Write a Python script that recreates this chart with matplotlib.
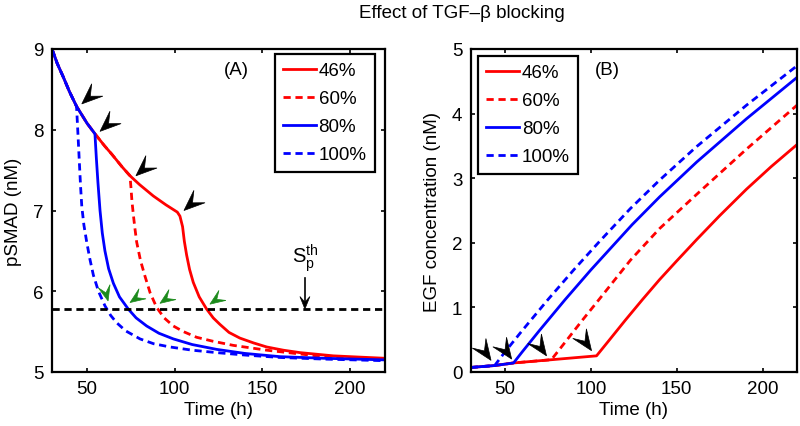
import numpy as np
import matplotlib
matplotlib.use("Agg")
import matplotlib.pyplot as plt
import matplotlib.transforms as mtransforms
from matplotlib.patches import Polygon

plt.rcParams['font.family'] = ['Liberation Sans', 'DejaVu Sans']
plt.rcParams['mathtext.fontset'] = 'custom'
plt.rcParams['mathtext.rm'] = 'Liberation Sans'
plt.rcParams['mathtext.it'] = 'Liberation Sans'

# ---------------------------------------------------------------
# Data
# ---------------------------------------------------------------
labels = ["46%", "60%", "80%", "100%"]
colors = ["#ff0000", "#ff0000", "#0000ff", "#0000ff"]
styles = ["solid", "dashed", "solid", "dashed"]

# (A) pSMAD, common trajectory before blocking
smad_pre_t = [30, 33, 36.5, 40, 44, 50, 54.5, 60, 64, 70, 74.5, 80, 87.8, 95, 101.5]
smad_pre_v = [9.0, 8.82, 8.65, 8.47, 8.29, 8.08, 7.95, 7.80, 7.70, 7.54, 7.43, 7.32, 7.18, 7.07, 6.98]
block_time = [101.5, 74.5, 54.5, 44]

# (A) pSMAD after blocking
smad_46_t = [103, 104.5, 105.5, 106.8, 108.5, 110.6, 114, 118.2, 122, 125.8, 131,
             137.2, 145, 152.5, 162, 171.5, 190.5, 205, 220]
smad_46_v = [6.93, 6.80, 6.62, 6.45, 6.27, 6.11, 5.93, 5.78, 5.67, 5.59, 5.49,
             5.42, 5.36, 5.31, 5.27, 5.24, 5.20, 5.185, 5.17]
smad_60_t = [75.0, 75.6, 76.4, 77.3, 78.3, 80.5, 83, 86, 89.7, 94, 99.2, 105,
             112.5, 122, 133.4, 152.5, 181, 220]
smad_60_v = [7.30, 7.12, 6.95, 6.78, 6.61, 6.38, 6.19, 5.98, 5.80, 5.67, 5.57, 5.50,
             5.43, 5.38, 5.33, 5.27, 5.20, 5.15]
smad_80_t = [55.3, 56.2, 57.4, 58.7, 60.2, 62.3, 65, 68.5, 73.5, 78, 84, 91, 99.2,
             110, 124, 140, 160, 185, 220]
smad_80_v = [7.65, 7.35, 7.00, 6.72, 6.50, 6.28, 6.10, 5.93, 5.78, 5.67, 5.57, 5.48,
             5.41, 5.34, 5.28, 5.23, 5.19, 5.17, 5.15]
smad_100_t = [44.8, 45.6, 46.3, 47.0, 48.2, 49.8, 51.6, 53.6, 56.5, 60.2, 63.5, 66.9,
              72, 80.2, 88, 97.3, 110, 124, 140, 160, 185, 220]
smad_100_v = [7.95, 7.60, 7.30, 7.05, 6.82, 6.61, 6.40, 6.20, 6.00, 5.82, 5.70, 5.61,
              5.51, 5.41, 5.35, 5.31, 5.27, 5.24, 5.21, 5.18, 5.16, 5.14]
smad_threshold = 5.78

# (B) EGF, common baseline before blocking
egf_pre_t = [30, 44, 55, 77, 103.3]
egf_pre_v = [0.07, 0.10, 0.14, 0.19, 0.25]
egf_block = [103.3, 77, 55, 44]

# (B) EGF after blocking
egf_46_t = [110, 120, 130, 140, 150, 161.6, 175, 190.6, 205, 220]
egf_46_v = [0.47, 0.80, 1.12, 1.43, 1.72, 2.05, 2.42, 2.83, 3.18, 3.52]
egf_60_t = [85, 95, 105, 114, 123, 140, 161.6, 190.6, 220]
egf_60_v = [0.46, 0.80, 1.13, 1.43, 1.73, 2.22, 2.75, 3.45, 4.13]
egf_80_t = [60, 70, 85, 100, 112, 124, 140, 161.6, 190.6, 220]
egf_80_v = [0.31, 0.64, 1.12, 1.58, 1.93, 2.28, 2.71, 3.25, 3.92, 4.56]
egf_100_t = [50, 60, 75, 90, 105, 123, 140, 161.6, 190.6, 220]
egf_100_v = [0.31, 0.64, 1.12, 1.58, 2.02, 2.53, 2.97, 3.49, 4.13, 4.74]

# arrowhead markers: (t, value, direction in degrees)
arrows_a_black = [(47, 8.32, 222), (57.4, 7.98, 222), (77.9, 7.43, 222), (105.3, 7.0, 222)]
arrows_a_green = [(62, 5.88, -75), (74.5, 5.86, 215), (91.6, 5.85, 215), (120.1, 5.84, 215)]
arrows_b_black = [(41.9, 0.18, -55), (53.9, 0.20, -55), (74.2, 0.25, -55), (100.4, 0.33, -55)]

smad_after = [(smad_46_t, smad_46_v), (smad_60_t, smad_60_v),
              (smad_80_t, smad_80_v), (smad_100_t, smad_100_v)]
egf_after = [(egf_46_t, egf_46_v), (egf_60_t, egf_60_v),
             (egf_80_t, egf_80_v), (egf_100_t, egf_100_v)]

LW = 2.0
DASH = (0, (2.6, 1.7))
FS = 13.5


def line_style(s):
    return "-" if s == "solid" else DASH


def chevron(ax, x, y, angle, size, color):
    # notched arrowhead, tip at (x, y), size in points
    L = size
    W = 0.8 * size
    verts = np.array([[0, 0], [-L, W / 2], [-0.55 * L, 0], [-L, -W / 2]])
    tr = (mtransforms.Affine2D().rotate_deg(angle).scale(ax.figure.dpi / 72.0)
          + mtransforms.ScaledTranslation(x, y, ax.transData))
    ax.add_patch(Polygon(verts, closed=True, transform=tr, facecolor=color,
                         edgecolor=color, lw=0.5, clip_on=False, zorder=5))


def style_axes(ax):
    for sp in ax.spines.values():
        sp.set_linewidth(1.6)
    ax.tick_params(direction="in", length=3, width=1.2, top=True, right=True,
                   labelsize=FS, pad=6)


def make_legend(ax, loc, anchor):
    leg = ax.legend(loc=loc, bbox_to_anchor=anchor, borderaxespad=0,
                    fontsize=FS, handlelength=1.75, handletextpad=0.15,
                    labelspacing=0.58, borderpad=0.45, fancybox=False,
                    framealpha=1)
    leg.get_frame().set_edgecolor("black")
    leg.get_frame().set_linewidth(1.6)
    return leg


fig = plt.figure(figsize=(8, 4.27), dpi=100)
axA = fig.add_axes([52 / 800, 1 - 373 / 427, 333 / 800, 323 / 427])
axB = fig.add_axes([470.6 / 800, 1 - 373 / 427, 326.4 / 800, 323 / 427])

# ---------------- panel A ----------------
pre_t = np.array(smad_pre_t)
pre_v = np.array(smad_pre_v)
for i in range(4):
    keep = pre_t <= block_time[i]
    t = np.concatenate([pre_t[keep], smad_after[i][0]])
    v = np.concatenate([pre_v[keep], smad_after[i][1]])
    axA.plot(t, v, color=colors[i], linestyle=line_style(styles[i]), lw=LW,
             label=labels[i])

axA.axhline(smad_threshold, color="black", linestyle=DASH, lw=LW)
axA.set_xlim(30, 220)
axA.set_ylim(5, 9)
axA.set_xticks([50, 100, 150, 200])
axA.set_yticks([5, 6, 7, 8, 9])
axA.set_xlabel("Time (h)", fontsize=FS, labelpad=3)
axA.set_ylabel("pSMAD (nM)", fontsize=FS, labelpad=8)
style_axes(axA)

for x, y, a in arrows_a_black:
    chevron(axA, x, y, a, 15, "black")
for x, y, a in arrows_a_green:
    chevron(axA, x, y, a, 11, "#1b8a1b")

axA.text(174.3, 6.42, r"$\mathrm{S}_\mathrm{p}^\mathrm{th}$", fontsize=FS + 1,
         ha="center", va="center")
axA.plot([174.3, 174.3], [6.17, 5.85], color="black", lw=1.2)
chevron(axA, 174.3, smad_threshold, -90, 9, "black")

axA.text(0.553, 0.935, "(A)", transform=axA.transAxes, fontsize=FS,
         ha="center", va="center")
make_legend(axA, "upper right", (0.97, 0.985))

# ---------------- panel B ----------------
bt = np.array(egf_pre_t)
bv = np.array(egf_pre_v)
for i in range(4):
    keep = bt <= egf_block[i]
    t = np.concatenate([bt[keep], egf_after[i][0]])
    v = np.concatenate([bv[keep], egf_after[i][1]])
    axB.plot(t, v, color=colors[i], linestyle=line_style(styles[i]), lw=LW,
             label=labels[i])

axB.set_xlim(30, 220)
axB.set_ylim(0, 5)
axB.set_xticks([50, 100, 150, 200])
axB.set_yticks([0, 1, 2, 3, 4, 5])
axB.set_xlabel("Time (h)", fontsize=FS, labelpad=3)
axB.set_ylabel("EGF concentration (nM)", fontsize=FS, labelpad=8)
style_axes(axB)

for x, y, a in arrows_b_black:
    chevron(axB, x, y, a, 15, "black")

axB.text(0.42, 0.935, "(B)", transform=axB.transAxes, fontsize=FS,
         ha="center", va="center")
make_legend(axB, "upper left", (0.022, 0.979))

fig.text(462 / 800, 1 - 13 / 427, "Effect of TGF\u2013\u03b2 blocking",
         fontsize=FS, ha="center", va="center")

fig.savefig("out.png", dpi=100)
